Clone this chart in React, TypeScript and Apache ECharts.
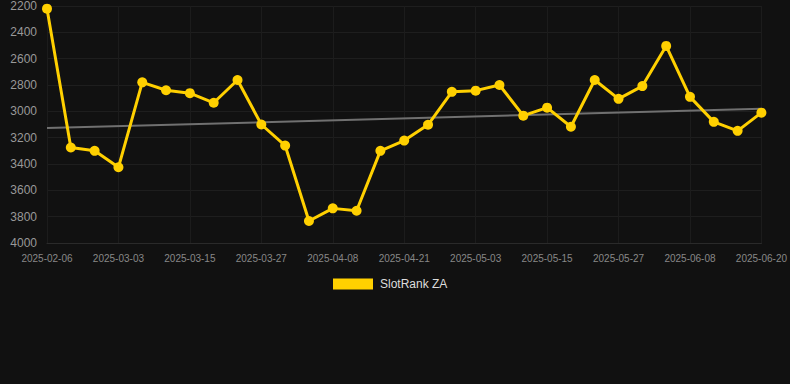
import React, { useEffect, useRef } from "react";
import * as echarts from "echarts";

const categories = [
  "2025-02-06", "2025-02-14", "2025-02-22", "2025-03-03", "2025-03-07", "2025-03-11",
  "2025-03-15", "2025-03-19", "2025-03-23", "2025-03-27", "2025-03-31", "2025-04-04",
  "2025-04-08", "2025-04-12", "2025-04-17", "2025-04-21", "2025-04-25", "2025-04-29",
  "2025-05-03", "2025-05-07", "2025-05-11", "2025-05-15", "2025-05-19", "2025-05-23",
  "2025-05-27", "2025-05-31", "2025-06-04", "2025-06-08", "2025-06-12", "2025-06-16",
  "2025-06-20",
];

const rankValues = [
  2220, 3275, 3300, 3425, 2780, 2840, 2862, 2935, 2762, 3100, 3260, 3833,
  3737, 3755, 3300, 3222, 3102, 2852, 2843, 2800, 3033, 2972, 3117, 2762,
  2905, 2808, 2503, 2890, 3080, 3148, 3010,
];

const trendStart = 3127;
const trendEnd = 2980;

export default function App() {
  const ref = useRef<HTMLDivElement>(null);
  useEffect(() => {
    if (!ref.current) return;
    const chart = echarts.init(ref.current, null, { renderer: "svg" });
    const trendData = categories.map((_, i) =>
      i === 0 ? trendStart : i === categories.length - 1 ? trendEnd : null
    );
    chart.setOption({
      animation: false,
      backgroundColor: "#111111",
      grid: { left: 47, right: 28, top: 6, bottom: 141 },
      legend: {
        data: ["SlotRank ZA"],
        left: 328,
        top: 273,
        icon: "rect",
        itemWidth: 40,
        itemHeight: 11,
        itemGap: 10,
        textStyle: { color: "#dddddd", fontSize: 12, fontFamily: "Arial, Liberation Sans, sans-serif", padding: [0, 0, 0, 2] },
      },
      xAxis: {
        type: "category",
        data: categories,
        boundaryGap: false,
        axisLine: { show: true, lineStyle: { color: "#2a2a2a" } },
        axisTick: { show: false },
        axisLabel: {
          interval: 2,
          color: "#888888",
          fontSize: 10,
          margin: 10,
          fontFamily: "Arial, Liberation Sans, sans-serif",
        },
        splitLine: { show: true, interval: 2, lineStyle: { color: "#1c1c1c" } },
      },
      yAxis: {
        type: "value",
        inverse: true,
        min: 2200,
        max: 4000,
        interval: 200,
        axisLine: { show: false },
        axisTick: { show: false },
        axisLabel: {
          color: "#999999",
          fontSize: 12,
          margin: 10,
          fontFamily: "Arial, Liberation Sans, sans-serif",
          formatter: (v: number) => String(v),
        },
        splitLine: { show: true, lineStyle: { color: "#1e1e1e" } },
      },
      series: [
        {
          name: "SlotRank ZA",
          type: "line",
          data: rankValues,
          symbol: "circle",
          symbolSize: 10,
          itemStyle: { color: "#FFD000" },
          lineStyle: { color: "#FFD000", width: 3 },
          z: 3,
        },
        {
          name: "Trend",
          type: "line",
          data: trendData,
          connectNulls: true,
          symbol: "none",
          lineStyle: { color: "#707070", width: 2 },
          z: 2,
        },
      ],
    });
    return () => chart.dispose();
  }, []);
  return <div ref={ref} style={{ width: 790, height: 384, position: "absolute", left: 0, top: 0 }} />;
}
